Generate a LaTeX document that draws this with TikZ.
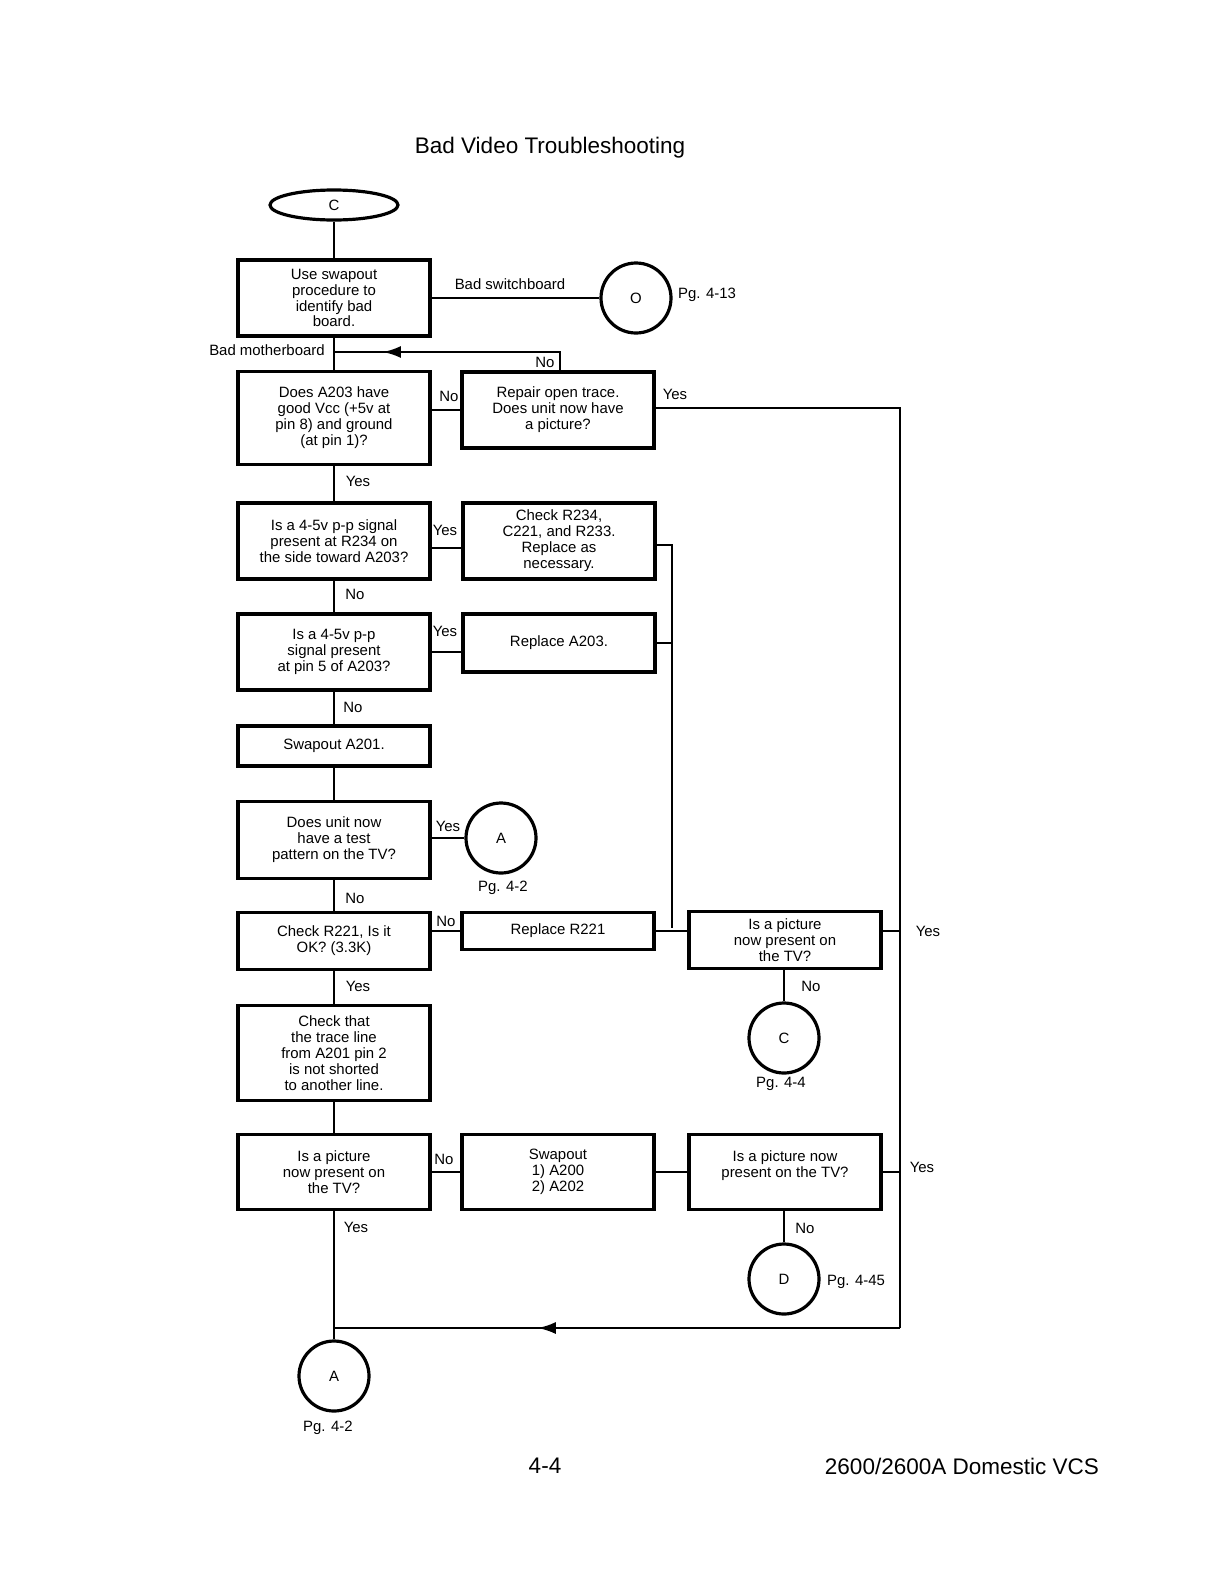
\documentclass[tikz,border=0pt]{standalone}
\usepackage{fontspec}
\setmainfont{Liberation Sans}
\usetikzlibrary{shapes.geometric,arrows.meta,decorations.markings}
\newcommand{\boxfont}{\fontsize{7.5}{8}\selectfont}
\newcommand{\pagefont}{\fontsize{11.3}{13}\selectfont}
\tikzset{
  box/.style={draw,line width=1.6bp,align=center,font=\boxfont,inner sep=1bp,minimum width=96bp},
  conn/.style={draw,circle,line width=1.6bp,minimum size=35bp,font=\boxfont,inner sep=0pt},
  lbl/.style={font=\boxfont,inner sep=1bp},
  link/.style={line width=1.2bp},
  midarrow/.style={postaction={decorate},decoration={markings,mark=at position #1 with {\arrow{Latex[length=9bp,width=6bp]}}}}
}
\begin{document}
\begin{tikzpicture}[x=0.5bp,y=-0.5bp]
    \useasboundingbox (0,0) rectangle (1224,1584);
    \node[font=\pagefont] (title) at (550,148) {Bad Video Troubleshooting};
    \node[draw,ellipse,line width=1.6bp,minimum width=64bp,minimum height=15bp,font=\boxfont,inner sep=0pt] (startC) at (334,205) {C};
    \node[box,minimum height=38bp] (swapproc) at (334,298) {Use swapout\\procedure to\\identify bad\\board.};
    \node[conn] (goO) at (636,298) {O};
    \node[box,minimum height=46.5bp] (vcc) at (334,418) {Does A203 have\\good Vcc (+5v at\\pin 8) and ground\\(at pin 1)?};
    \node[box,minimum height=38bp] (repair) at (558,410) {Repair open trace.\\Does unit now have\\a picture?};
    \node[box,minimum height=38bp] (sigR) at (334,541) {Is a 4-5v p-p signal\\present at R234 on\\the side toward A203?};
    \node[box,minimum height=38bp] (chkR) at (559,541) {Check R234,\\C221, and R233.\\Replace as\\necessary.};
    \node[box,minimum height=38bp] (sigpin) at (334,652) {Is a 4-5v p-p\\signal present\\at pin 5 of A203?};
    \node[box,minimum height=29bp] (repA) at (559,643) {Replace A203.};
    \node[box,minimum height=20bp] (swapA) at (334,746) {Swapout A201.};
    \node[box,minimum height=38.5bp] (pattern) at (334,840) {Does unit now\\have a test\\pattern on the TV?};
    \node[conn] (goA1) at (501,838) {A};
    \node[box,minimum height=28.5bp] (chkRR) at (334,941) {Check R221, Is it\\OK? (3.3K)};
    \node[box,minimum height=18.5bp] (repRR) at (558,931) {Replace R221};
    \node[box,minimum height=28.5bp] (pic1) at (785,940) {Is a picture\\now present on\\the TV?};
    \node[conn] (goC) at (784,1038) {C};
    \node[box,minimum height=47.5bp] (trace) at (334,1053) {Check that\\the trace line\\from A201 pin 2\\is not shorted\\to another line.};
    \node[box,minimum height=37.5bp] (pic2) at (334,1172) {Is a picture\\now present on\\the TV?};
    \node[box,minimum height=37.5bp] (swapB) at (558,1172) {Swapout\\1) A200\\2) A202};
    \node[box,minimum height=37.5bp] (pic3) at (785,1172) {Is a picture now\\present on the TV?\\ ~};
    \node[conn] (goD) at (784,1279) {D};
    \node[conn] (goA2) at (334,1376) {A};
    % junctions
    \coordinate (mergeMB) at (334,352);
    \coordinate (busTop) at (900,408);
    \coordinate (busBot) at (900,1328);
    \coordinate (busMid) at (672,928);
    \coordinate (mergeA) at (334,1328);
    % labels
    \node[lbl] (lbSwitch) at (510,284) {Bad switchboard};
    \node[lbl] (pgO) at (707,295) {Pg. 4-13};
    \node[lbl] (lbMother) at (267,350) {Bad motherboard};
    \node[lbl] (lbNo1) at (545,362) {No};
    \node[lbl] (lbNo2) at (449,396) {No};
    \node[lbl] (lbYes1) at (675,394) {Yes};
    \node[lbl] (lbYes2) at (358,481) {Yes};
    \node[lbl] (lbYes3) at (445,530) {Yes};
    \node[lbl] (lbNo3) at (355,594) {No};
    \node[lbl] (lbYes4) at (445,631) {Yes};
    \node[lbl] (lbNo4) at (353,707) {No};
    \node[lbl] (lbYes5) at (448,826) {Yes};
    \node[lbl] (pgA1) at (503,888) {Pg. 4-2};
    \node[lbl] (lbNo5) at (355,898) {No};
    \node[lbl] (lbNo6) at (446,921) {No};
    \node[lbl] (lbYes6) at (928,931) {Yes};
    \node[lbl] (lbYes7) at (358,986) {Yes};
    \node[lbl] (lbNo7) at (811,986) {No};
    \node[lbl] (pgC) at (781,1084) {Pg. 4-4};
    \node[lbl] (lbNo8) at (444,1159) {No};
    \node[lbl] (lbYes8) at (922,1167) {Yes};
    \node[lbl] (lbYes9) at (356,1227) {Yes};
    \node[lbl] (lbNo9) at (805,1228) {No};
    \node[lbl] (pgD) at (856,1282) {Pg. 4-45};
    \node[lbl] (pgA2) at (328,1428) {Pg. 4-2};
    \node[font=\pagefont] (pageno) at (545,1466) {4-4};
    \node[font=\pagefont] (model) at (962,1466) {2600/2600A Domestic VCS};
    % trunk
    \draw[link] (startC) -- (swapproc);
    \draw[link] (swapproc) -- (vcc);
    \draw[link] (swapproc) -- (goO);
    \draw[link] (vcc.east |- repair.west) -- (repair.west);
    \draw[link,midarrow=0.8] (repair.north -| 560,0) -- (560,352) -- (mergeMB);
    \draw[link] (repair.east |- busTop) -- (busTop) -- (busBot);
    \draw[link] (vcc) -- (sigR);
    \draw[link] (sigR.east |- 0,548) -- (chkR.west |- 0,548);
    \draw[link] (sigR) -- (sigpin);
    \draw[link] (sigpin.east) -- (repA.west |- sigpin.east);
    \draw[link] (chkR.east |- 0,545) -- (busMid |- 0,545) -- (busMid);
    \draw[link] (repA.east) -- (repA.east -| busMid);
    \draw[link] (sigpin) -- (swapA);
    \draw[link] (swapA) -- (pattern);
    \draw[link] (pattern.east |- goA1) -- (goA1);
    \draw[link] (pattern) -- (chkRR);
    \draw[link] (chkRR.east |- repRR) -- (repRR.west);
    \draw[link] (repRR.east) -- (pic1.west |- repRR.east);
    \draw[link] (pic1.east |- repRR.east) -- (busTop |- repRR.east);
    \draw[link] (pic1.south -| goC) -- (goC);
    \draw[link] (chkRR) -- (trace);
    \draw[link] (trace) -- (pic2);
    \draw[link] (pic2.east) -- (swapB.west);
    \draw[link] (swapB.east) -- (pic3.west);
    \draw[link] (pic3.east) -- (pic3.east -| busTop);
    \draw[link] (pic3.south -| goD) -- (goD);
    \draw[link,midarrow=0.64] (busBot) -- (mergeA);
    \draw[link] (pic2) -- (goA2);
\end{tikzpicture}
\end{document}
